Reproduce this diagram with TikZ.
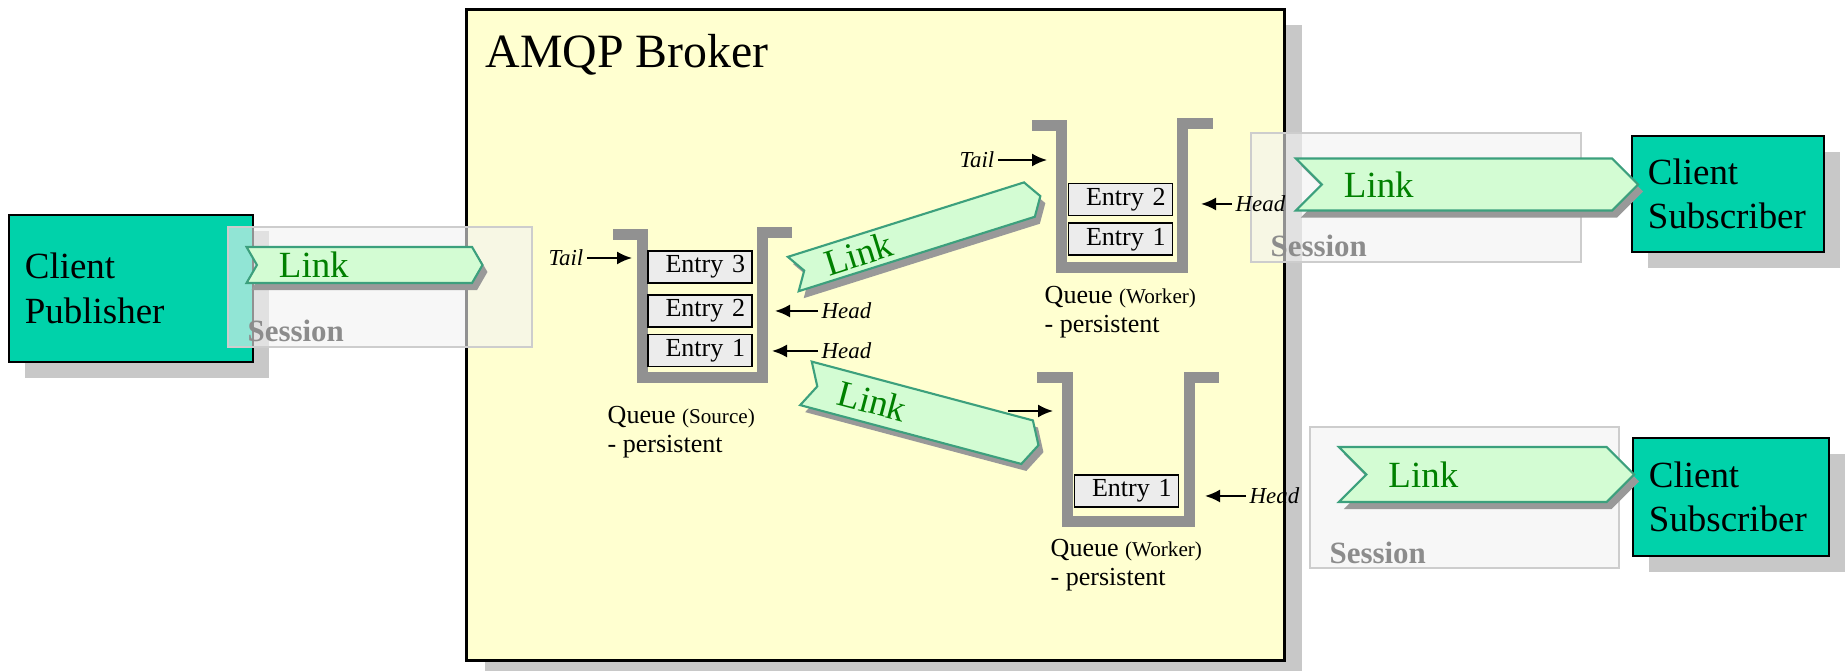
\documentclass[tikz,border=0pt]{standalone}
\usepackage{fontspec}
\setmainfont{Liberation Serif}
\usepackage{tikz}
\usetikzlibrary{positioning}
\usetikzlibrary{shapes.symbols}
\usetikzlibrary{shadows}
\usetikzlibrary{arrows.meta}
\usepackage{xcolor}
\definecolor{mybrokeryellow}{RGB}{255, 255, 208}
\definecolor{myclientgreen}{RGB}{0, 210, 170}
\definecolor{myshadowgray}{RGB}{200, 200, 200}
\definecolor{mysessionfill}{RGB}{242, 242, 242}
\definecolor{mysessionedge}{RGB}{205, 205, 205}
\definecolor{mysessiontext}{RGB}{140, 140, 140}
\definecolor{mylinkfill}{RGB}{211, 252, 211}
\definecolor{mylinkedge}{RGB}{60, 160, 125}
\definecolor{mylinktext}{RGB}{0, 128, 0}
\definecolor{mylinkshadow}{RGB}{153, 153, 153}
\definecolor{myqueuegray}{RGB}{145, 145, 145}
\definecolor{myentryfill}{RGB}{236, 236, 236}
\newcommand{\Subq}[1]{{\fontsize{6pt}{7pt}\selectfont #1}}

\begin{document}
\begin{tikzpicture}[
            x=0.01cm, y=-0.01cm,
            node distance=0.06cm and 0.06cm,
            broker/.style={
                rectangle,
                draw=black,
                line width=0.8pt,
                fill=mybrokeryellow,
                minimum width=8.17cm,
                minimum height=6.50cm,
                drop shadow={shadow xshift=0.18cm, shadow yshift=-0.15cm, fill=myshadowgray, opacity=1}
            },
            client/.style={
                rectangle,
                draw=black,
                line width=0.6pt,
                fill=myclientgreen,
                inner xsep=0.16cm,
                align=left,
                font={\fontsize{10.5pt}{12.6pt}\selectfont},
                drop shadow={shadow xshift=0.16cm, shadow yshift=-0.16cm, fill=myshadowgray, opacity=1}
            },
            session/.style={
                rectangle,
                draw=mysessionedge,
                line width=0.6pt,
                fill=mysessionfill,
                fill opacity=0.6
            },
            sessiontext/.style={text=mysessiontext, font={\fontsize{8.8pt}{10pt}\selectfont\bfseries}, inner sep=0pt},
            link/.style={
                signal,
                signal to=east,
                signal from=west,
                signal pointer angle=#1,
                draw=mylinkedge,
                line width=0.6pt,
                fill=mylinkfill,
                text=mylinktext,
                font={\fontsize{10.5pt}{12.6pt}\selectfont},
                align=left,
                inner xsep=0.22cm,
                inner ysep=0pt,
                drop shadow={shadow xshift=0.05cm, shadow yshift=-0.07cm, fill=mylinkshadow, opacity=1}
            },
            wall/.style={draw=myqueuegray, line width=0.11cm, line join=miter},
            entry/.style={
                rectangle,
                draw=black,
                line width=0.5pt,
                fill=myentryfill,
                text width=0.90cm,
                inner xsep=0.07cm,
                inner ysep=0pt,
                minimum height=0.32cm,
                align=right,
                font={\fontsize{7.4pt}{8.5pt}\selectfont}
            },
            caption/.style={align=left, inner sep=0pt, font={\fontsize{7.4pt}{8.5pt}\selectfont}},
            pointer/.style={inner xsep=0.03cm, inner ysep=0pt, font={\fontsize{6.5pt}{7.5pt}\selectfont\itshape}},
            arr/.style={-{Latex[length=0.15cm, width=0.13cm]}, line width=0.02cm}
        ]

            \useasboundingbox (0,0) rectangle (1846,671);
            \clip (0,0) rectangle (1846,671);

            % Broker
            \node[broker] (broker) at (875.5,335) {};
            \node[anchor=base west, inner sep=0pt, font={\fontsize{13.6pt}{16pt}\selectfont}] (brokertitle) at (485,68) {AMQP Broker};

            % Clients
            \node[client, text width=2.12cm, minimum height=1.47cm] (publisher) at (131,288.5) {Client\\Publisher};
            \node[client, text width=1.60cm, minimum height=1.16cm] (subscribera) at (1728,194) {Client\\Subscriber};
            \node[client, text width=1.64cm, minimum height=1.18cm] (subscriberb) at (1731,497) {Client\\Subscriber};

            % Sessions
            \node[session, minimum width=3.04cm, minimum height=1.20cm] (pubsession) at (380,287) {};
            \node[session, minimum width=3.30cm, minimum height=1.29cm] (subsessiona) at (1416,197.5) {};
            \node[session, minimum width=3.09cm, minimum height=1.41cm] (subsessionb) at (1464.5,497.5) {};
            \node[sessiontext, anchor=base west] (pubsessionlabel) at ([xshift=0.2cm, yshift=0.07cm]pubsession.south west) {Session};
            \node[sessiontext, anchor=base west] (subsessionalabel) at ([xshift=0.2cm, yshift=0.07cm]subsessiona.south west) {Session};
            \node[sessiontext, anchor=base west] (subsessionblabel) at ([xshift=0.2cm, yshift=0.06cm]subsessionb.south west) {Session};

            % Queues
            \draw[wall] (613,235) -- (642.5,235) -- (642.5,378) -- (762.5,378) -- (762.5,233) -- (792,233);
            \draw[wall] (1032,126) -- (1061.5,126) -- (1061.5,268) -- (1182.5,268) -- (1182.5,123.5) -- (1213,123.5);
            \draw[wall] (1037,378) -- (1067.5,378) -- (1067.5,522) -- (1189,522) -- (1189,377.5) -- (1219,377.5);

            % Entries
            \node[entry] (srcentry3) at (700,267) {Entry 3};
            \node[entry, below=0.10cm of srcentry3] (srcentry2) {Entry 2};
            \node[entry, below=of srcentry2] (srcentry1) {Entry 1};
            \node[entry] (wrkaentry2) at (1120.5,199.5) {Entry 2};
            \node[entry, below=of wrkaentry2] (wrkaentry1) {Entry 1};
            \node[entry] (wrkbentry1) at (1126.5,491) {Entry 1};

            \node[caption, anchor=base west] (srccaption) at (607,453) {Queue \Subq{(Source)}\\- persistent};
            \node[caption, anchor=base west] (wrkacaption) at (1044,333) {Queue \Subq{(Worker)}\\- persistent};
            \node[caption, anchor=base west] (wrkbcaption) at (1050,586) {Queue \Subq{(Worker)}\\- persistent};

            % Links
            \node[link=120, text width=1.71cm, minimum height=0.36cm] (publink) at (364.5,265) {Link};
            \node[link=115, text width=1.92cm, minimum height=0.36cm, rotate=17.5] (wrklinka) at (916.8,235.1) {Link};
            \node[link=125, text width=1.73cm, minimum height=0.45cm, rotate=-14.9] (wrklinkb) at (922.2,414.3) {Link};
            \node[link=90, text width=2.46cm, minimum height=0.52cm] (sublinka) at (1467,184.5) {Link};
            \node[link=90, text width=1.96cm, minimum height=0.55cm] (sublinkb) at (1486.5,474.5) {Link};

            % Tail and Head
            \node[pointer, anchor=east] (srctail) at (587,258) {Tail};
            \node[pointer, anchor=west] (srchead2) at (818,311) {Head};
            \node[pointer, anchor=west] (srchead1) at (818,351) {Head};
            \node[pointer, anchor=east] (wrkatail) at (998,160) {Tail};
            \node[pointer, anchor=west] (wrkahead) at (1232,204) {Head};
            \node[pointer, anchor=west] (wrkbhead) at (1246,496) {Head};
            \coordinate (srctailtip) at (632,258);
            \coordinate (srchead2tip) at (775,311);
            \coordinate (srchead1tip) at (772,351);
            \coordinate (wrkatailtip) at (1047,160);
            \coordinate (wrkaheadtip) at (1201,204);
            \coordinate (wrkbtailstart) at (1008,411);
            \coordinate (wrkbtailtip) at (1053,411);
            \coordinate (wrkbheadtip) at (1205,496);

            % Arrows
            \draw[arr] (srctail) -- (srctailtip);
            \draw[arr] (srchead2) -- (srchead2tip);
            \draw[arr] (srchead1) -- (srchead1tip);
            \draw[arr] (wrkatail) -- (wrkatailtip);
            \draw[arr] (wrkahead) -- (wrkaheadtip);
            \draw[arr] (wrkbtailstart) -- (wrkbtailtip);
            \draw[arr] (wrkbhead) -- (wrkbheadtip);
        \end{tikzpicture}
\end{document}
